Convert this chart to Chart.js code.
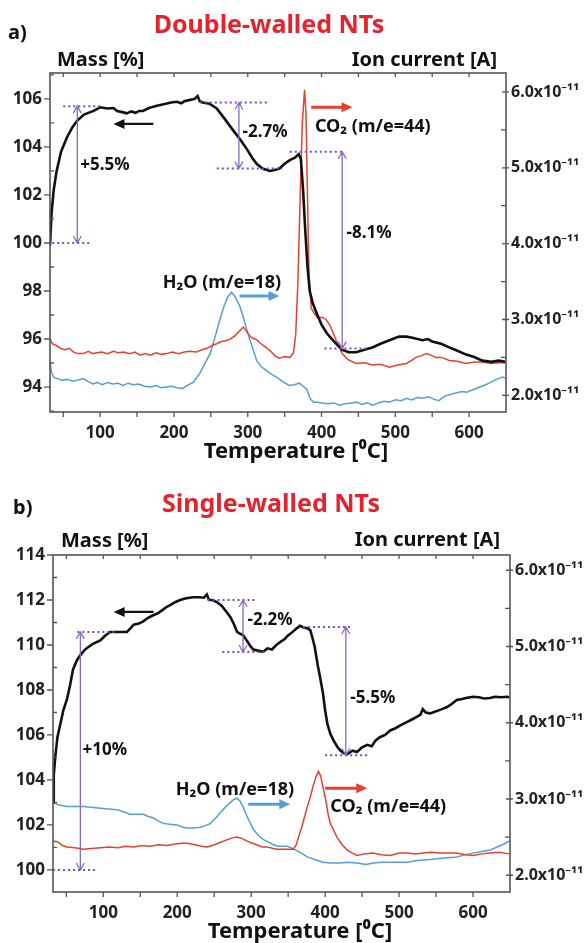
<!DOCTYPE html>
<html>
<head>
<meta charset="utf-8">
<script src="https://cdn.jsdelivr.net/npm/chart.js@4.4.1/dist/chart.umd.min.js"></script>
<style>
  body { margin: 0; background: #fff; }
  #wrap { position: relative; width: 587px; height: 943px; }
  #wrap canvas { position: absolute; left: 0; }
</style>
</head>
<body>
<div id="wrap">
  <canvas id="chartA" width="587" height="470" style="top:0"></canvas>
  <canvas id="chartB" width="587" height="473" style="top:470px"></canvas>
</div>
<script>
// shared ticks
const tempTicks = [100, 200, 300, 400, 500, 600];
const ionTicks = [2, 3, 4, 5, 6];           // x1e-11 A
const aMassTicks = [94, 96, 98, 100, 102, 104, 106];
const bMassTicks = [100, 102, 104, 106, 108, 110, 112, 114];

// a) double-walled NTs - mass [%]
const aMassT = [32, 34, 37, 41, 47, 55, 62, 69, 78, 91, 100, 110, 118, 123, 130, 136, 142, 148, 153, 158, 166, 177, 186, 196, 204, 210, 214, 222, 228, 232, 235, 239, 248, 258, 268, 280, 290, 299, 306, 312, 320, 330, 338, 343, 350, 357, 364, 369, 372, 375, 378, 381, 384, 388, 393, 400, 407, 414, 420, 428, 437, 447, 458, 469, 480, 492, 505, 515, 523, 530, 537, 544, 550, 562, 573, 585, 596, 607, 618, 630, 640, 649];
const aMass = [99.9, 101.2, 102.2, 103.0, 103.8, 104.4, 104.8, 105.1, 105.35, 105.5, 105.65, 105.6, 105.62, 105.5, 105.45, 105.4, 105.48, 105.42, 105.5, 105.5, 105.62, 105.72, 105.78, 105.85, 105.88, 105.82, 105.9, 105.96, 106.0, 106.12, 105.9, 105.85, 105.8, 105.6, 105.2, 104.7, 104.3, 103.9, 103.55, 103.3, 103.1, 103.0, 103.05, 103.1, 103.3, 103.45, 103.55, 103.7, 103.5, 102.2, 100.5, 99.0, 98.0, 97.5, 97.1, 96.6, 96.25, 96.0, 95.8, 95.55, 95.45, 95.45, 95.55, 95.65, 95.8, 95.95, 96.1, 96.1, 96.05, 96.0, 95.95, 96.0, 95.9, 95.8, 95.65, 95.5, 95.35, 95.25, 95.1, 95.05, 95.1, 95.05];

// a) CO2 ion current (m/e=44), x1e-11 A
const aCo2T = [32, 35, 40, 46, 52, 58, 64, 70, 77, 84, 90, 96, 102, 110, 118, 125, 132, 140, 147, 154, 161, 168, 176, 183, 190, 198, 206, 214, 222, 230, 238, 245, 252, 258, 264, 270, 276, 282, 288, 294, 300, 305, 311, 318, 325, 331, 337, 343, 350, 357, 362, 365, 368, 371, 374, 377, 379, 381, 383, 386, 390, 395, 401, 406, 411, 416, 420, 428, 436, 447, 458, 469, 480, 492, 503, 515, 522, 528, 535, 542, 548, 555, 563, 573, 584, 596, 607, 618, 630, 640, 649];
const aCo2 = [2.75, 2.68, 2.66, 2.62, 2.6, 2.62, 2.57, 2.55, 2.55, 2.58, 2.55, 2.56, 2.57, 2.55, 2.58, 2.56, 2.57, 2.55, 2.57, 2.53, 2.55, 2.53, 2.56, 2.54, 2.55, 2.57, 2.55, 2.57, 2.58, 2.57, 2.6, 2.62, 2.66, 2.68, 2.71, 2.72, 2.74, 2.78, 2.84, 2.9, 2.82, 2.76, 2.74, 2.68, 2.63, 2.58, 2.52, 2.49, 2.51, 2.5, 2.56, 2.8, 3.5, 4.6, 5.6, 6.03, 5.7, 4.6, 3.6, 3.15, 3.08, 3.02, 3.03, 3.0, 2.93, 2.82, 2.72, 2.55, 2.47, 2.42, 2.43, 2.4, 2.41, 2.37, 2.4, 2.42, 2.46, 2.5, 2.52, 2.55, 2.53, 2.5, 2.5, 2.46, 2.45, 2.42, 2.44, 2.44, 2.42, 2.43, 2.43];

// a) H2O ion current (m/e=18), x1e-11 A
const aH2oT = [32, 34, 37, 42, 48, 55, 62, 69, 77, 84, 90, 96, 103, 110, 117, 124, 131, 138, 145, 152, 160, 168, 176, 183, 190, 197, 204, 212, 218, 226, 235, 242, 249, 256, 262, 268, 273, 278, 283, 289, 294, 299, 303, 308, 312, 318, 325, 332, 339, 346, 356, 363, 370, 375, 380, 385, 389, 395, 401, 410, 417, 424, 432, 440, 447, 455, 462, 469, 477, 485, 492, 500, 508, 515, 522, 530, 537, 545, 552, 559, 567, 575, 582, 590, 597, 604, 612, 620, 627, 635, 640, 645, 649];
const aH2o = [2.45, 2.3, 2.24, 2.22, 2.2, 2.21, 2.19, 2.2, 2.22, 2.18, 2.15, 2.17, 2.14, 2.17, 2.15, 2.16, 2.13, 2.16, 2.14, 2.15, 2.12, 2.11, 2.13, 2.1, 2.11, 2.12, 2.1, 2.09, 2.13, 2.17, 2.29, 2.42, 2.55, 2.78, 2.99, 3.18, 3.3, 3.36, 3.3, 3.18, 3.03, 2.86, 2.73, 2.58, 2.46, 2.38, 2.33, 2.28, 2.24, 2.19, 2.13, 2.14, 2.16, 2.12, 2.08, 1.95, 1.91, 1.91, 1.9, 1.89, 1.9, 1.87, 1.89, 1.9, 1.91, 1.88, 1.9, 1.87, 1.9, 1.92, 1.91, 1.94, 1.93, 1.96, 1.94, 1.97, 1.96, 1.98, 1.95, 1.93, 1.99, 2.01, 2.03, 2.05, 2.04, 2.07, 2.1, 2.13, 2.16, 2.2, 2.22, 2.24, 2.23];

// b) single-walled NTs - mass [%]
const bMassT = [32, 33, 35, 38, 42, 46, 51, 55, 59, 64, 69, 74, 78, 86, 96, 102, 109, 118, 125, 132, 137, 141, 148, 154, 160, 166, 173, 180, 186, 191, 197, 204, 212, 222, 230, 236, 240, 243, 248, 254, 260, 266, 272, 277, 281, 285, 289, 294, 299, 303, 309, 316, 322, 328, 334, 340, 345, 349, 355, 360, 366, 371, 376, 380, 383, 386, 390, 393, 397, 400, 403, 407, 411, 416, 420, 425, 430, 437, 443, 450, 457, 463, 468, 474, 481, 488, 495, 503, 511, 518, 524, 529, 532, 536, 542, 550, 558, 565, 572, 578, 585, 592, 600, 608, 615, 623, 630, 638, 646, 649];
const bMass = [103.0, 104.2, 105.0, 105.9, 106.5, 107.1, 107.6, 108.2, 108.9, 109.3, 109.55, 109.75, 109.87, 110.05, 110.2, 110.4, 110.58, 110.58, 110.58, 110.58, 110.75, 110.9, 110.95, 111.05, 111.2, 111.3, 111.4, 111.55, 111.7, 111.78, 111.9, 112.0, 112.08, 112.12, 112.12, 112.1, 112.25, 112.0, 112.0, 111.9, 111.75, 111.5, 111.24, 110.9, 110.58, 110.5, 110.44, 110.2, 109.95, 109.8, 109.75, 109.7, 109.85, 109.8, 110.0, 110.15, 110.25, 110.4, 110.55, 110.7, 110.85, 110.78, 110.75, 110.65, 110.3, 109.9, 109.1, 108.6, 107.87, 107.1, 106.5, 106.05, 105.78, 105.5, 105.33, 105.2, 105.15, 105.3, 105.24, 105.45, 105.56, 105.5, 105.75, 105.9, 106.0, 106.2, 106.3, 106.45, 106.58, 106.7, 106.8, 106.9, 107.15, 107.0, 106.96, 107.05, 107.15, 107.24, 107.4, 107.56, 107.6, 107.65, 107.7, 107.68, 107.62, 107.64, 107.7, 107.68, 107.7, 107.68];

// b) CO2 ion current (m/e=44), x1e-11 A
const bCo2T = [32, 38, 45, 51, 62, 73, 84, 96, 108, 120, 130, 141, 152, 163, 175, 186, 197, 206, 214, 224, 233, 241, 250, 258, 266, 274, 281, 288, 294, 299, 307, 315, 322, 330, 335, 343, 350, 357, 361, 364, 368, 372, 376, 380, 384, 388, 391, 394, 397, 401, 404, 407, 411, 416, 423, 430, 437, 443, 452, 465, 476, 488, 500, 511, 522, 532, 544, 555, 566, 578, 590, 600, 612, 623, 635, 649];
const bCo2 = [2.45, 2.44, 2.39, 2.37, 2.36, 2.34, 2.35, 2.36, 2.37, 2.36, 2.38, 2.37, 2.39, 2.38, 2.4, 2.39, 2.41, 2.42, 2.42, 2.4, 2.38, 2.37, 2.4, 2.43, 2.46, 2.49, 2.5, 2.48, 2.45, 2.43, 2.4, 2.37, 2.37, 2.35, 2.34, 2.34, 2.34, 2.34, 2.4, 2.5, 2.62, 2.76, 2.9, 3.03, 3.18, 3.3, 3.36, 3.3, 3.16, 2.98, 2.8, 2.68, 2.6, 2.5, 2.4, 2.33, 2.29, 2.26, 2.28, 2.29, 2.27, 2.26, 2.29, 2.29, 2.28, 2.29, 2.3, 2.29, 2.29, 2.29, 2.27, 2.26, 2.28, 2.29, 2.3, 2.28];

// b) H2O ion current (m/e=18), x1e-11 A
const bH2oT = [32, 40, 51, 62, 73, 84, 96, 107, 119, 128, 136, 145, 154, 161, 168, 175, 181, 190, 200, 207, 214, 222, 231, 238, 245, 252, 258, 264, 270, 276, 281, 285, 289, 294, 299, 303, 310, 316, 322, 328, 335, 342, 349, 356, 362, 366, 371, 376, 385, 397, 408, 420, 430, 443, 455, 465, 477, 488, 500, 511, 522, 532, 545, 555, 566, 578, 590, 600, 612, 623, 635, 642, 649];
const bH2o = [2.96, 2.92, 2.9, 2.9, 2.9, 2.89, 2.88, 2.87, 2.86, 2.83, 2.8, 2.8, 2.8, 2.77, 2.75, 2.71, 2.68, 2.67, 2.66, 2.63, 2.62, 2.62, 2.63, 2.65, 2.68, 2.75, 2.82, 2.88, 2.94, 2.99, 3.01, 2.97, 2.9, 2.78, 2.68, 2.6, 2.52, 2.47, 2.44, 2.41, 2.38, 2.38, 2.38, 2.35, 2.32, 2.3, 2.27, 2.24, 2.21, 2.17, 2.16, 2.16, 2.17, 2.16, 2.14, 2.16, 2.17, 2.17, 2.17, 2.17, 2.19, 2.2, 2.21, 2.22, 2.23, 2.24, 2.27, 2.29, 2.31, 2.33, 2.38, 2.41, 2.45];

// mass-change markers: temperature of the arrow, mass from -> to, label spot
const aSpans = [
  { t: 69, from: 105.7, to: 100, text: '+5.5%', tt: 73, ty: 103.25 },
  { t: 288, from: 105.85, to: 103.1, text: '-2.7%', tt: 293, ty: 104.6 },
  { t: 428, from: 103.8, to: 95.6, text: '-8.1%', tt: 434, ty: 100.4 }
];
const aGuides = [[50, 100, 105.7], [35, 89, 100], [235, 326, 105.85], [258, 347, 103.1], [357, 431, 103.8], [404, 465, 95.6]];
const bSpans = [
  { t: 69, from: 110.58, to: 100, text: '+10%', tt: 72, ty: 105.33 },
  { t: 289, from: 112.0, to: 109.69, text: '-2.2%', tt: 295, ty: 111.1 },
  { t: 428, from: 110.8, to: 105.1, text: '-5.5%', tt: 434, ty: 107.64 }
];
const bGuides = [[65, 119, 110.58], [32, 89, 100], [241, 305, 112.0], [261, 322, 109.69], [370, 436, 110.8], [400, 458, 105.1]];

const BLACK = '#111111';
const RED = '#e8402f';
const BLUE = '#559fd2';
const PURPLE = '#8a68c0';
const FONT = '"Noto Sans", "DejaVu Sans", sans-serif';

function pts(xs, ys) {
  return xs.map((x, i) => ({ x: x, y: ys[i] }));
}

// arrow with a filled head
function arrow(ctx, x1, x2, y, color, w) {
  const dir = x2 > x1 ? 1 : -1;
  ctx.save();
  ctx.strokeStyle = color;
  ctx.fillStyle = color;
  ctx.lineWidth = w;
  ctx.beginPath();
  ctx.moveTo(x1, y);
  ctx.lineTo(x2 - dir * 8, y);
  ctx.stroke();
  ctx.beginPath();
  ctx.moveTo(x2, y);
  ctx.lineTo(x2 - dir * 11, y - 5);
  ctx.lineTo(x2 - dir * 11, y + 5);
  ctx.closePath();
  ctx.fill();
  ctx.restore();
}

function text(ctx, str, x, y, size, color, align) {
  ctx.save();
  ctx.font = 'bold ' + size + 'px ' + FONT;
  ctx.fillStyle = color;
  ctx.textAlign = align || 'left';
  ctx.textBaseline = 'middle';
  ctx.fillText(str, x, y);
  ctx.restore();
}

function makeDecor(cfg) {
  return {
    id: 'decor',
    afterDatasetsDraw(chart) {
      const { ctx, chartArea: a, scales } = chart;
      const X = scales.x, Y = scales.y, Y1 = scales.y1;

      // frame
      ctx.save();
      ctx.strokeStyle = '#555';
      ctx.lineWidth = 1.6;
      ctx.strokeRect(a.left, a.top, a.right - a.left, a.bottom - a.top);
      ctx.lineWidth = 1.3;
      ctx.beginPath();
      for (let t = 50; t <= 600; t += 50) {
        const x = X.getPixelForValue(t);
        ctx.moveTo(x, a.bottom); ctx.lineTo(x, a.bottom + 5);
        ctx.moveTo(x, a.top); ctx.lineTo(x, a.top + 4);
      }
      for (let v = Math.ceil(Y.min); v <= Y.max; v++) {
        const y = Y.getPixelForValue(v);
        if (v % 2 === 0) { ctx.moveTo(a.left - 6, y); ctx.lineTo(a.left, y); }
        else { ctx.moveTo(a.left, y); ctx.lineTo(a.left + 4, y); }
      }
      for (let v = 2; v <= 6; v += 0.5) {
        const y = Y1.getPixelForValue(v);
        if (v % 1 === 0) { ctx.moveTo(a.right - 4, y); ctx.lineTo(a.right + 3, y); }
        else { ctx.moveTo(a.right - 5, y); ctx.lineTo(a.right, y); }
      }
      ctx.stroke();
      ctx.restore();

      // dotted guide lines
      ctx.save();
      ctx.strokeStyle = '#7a4cc0';
      ctx.lineWidth = 2;
      ctx.setLineDash([2, 3]);
      ctx.beginPath();
      cfg.guides.forEach(g => {
        const y = Y.getPixelForValue(g[2]);
        ctx.moveTo(X.getPixelForValue(g[0]), y);
        ctx.lineTo(X.getPixelForValue(g[1]), y);
      });
      ctx.stroke();
      ctx.restore();

      // double-headed mass-change arrows
      cfg.spans.forEach(s => {
        const x = X.getPixelForValue(s.t);
        const y1 = Y.getPixelForValue(s.from), y2 = Y.getPixelForValue(s.to);
        const d = y2 > y1 ? 1 : -1;
        ctx.save();
        ctx.strokeStyle = PURPLE;
        ctx.lineWidth = 1.3;
        ctx.beginPath();
        ctx.moveTo(x, y1); ctx.lineTo(x, y2);
        ctx.moveTo(x - 4, y1 + d * 7); ctx.lineTo(x, y1); ctx.lineTo(x + 4, y1 + d * 7);
        ctx.moveTo(x - 4, y2 - d * 7); ctx.lineTo(x, y2); ctx.lineTo(x + 4, y2 - d * 7);
        ctx.stroke();
        ctx.restore();
        text(ctx, s.text, X.getPixelForValue(s.tt), Y.getPixelForValue(s.ty), 17, BLACK, 'left');
      });

      // direction arrows and gas labels
      cfg.arrows.forEach(r => {
        const sc = scales[r.axis];
        arrow(ctx, X.getPixelForValue(r.t1), X.getPixelForValue(r.t2), sc.getPixelForValue(r.v), r.color, r.w);
      });
      cfg.labels.forEach(l => {
        text(ctx, l.text, X.getPixelForValue(l.t), scales[l.axis].getPixelForValue(l.v), 18, BLACK, l.align);
      });

      // titles
      cfg.titles.forEach(l => text(ctx, l.text, l.x, l.y, l.size, l.color, l.align));
    }
  };
}

function makePanel(id, p) {
  const tickFont = { family: FONT, size: 16, weight: 'bold' };
  return new Chart(document.getElementById(id), {
    type: 'line',
    data: {
      datasets: [
        { data: pts(p.massT, p.mass), yAxisID: 'y', borderColor: BLACK, borderWidth: 2.6 },
        { data: pts(p.co2T, p.co2), yAxisID: 'y1', borderColor: RED, borderWidth: 1.5 },
        { data: pts(p.h2oT, p.h2o), yAxisID: 'y1', borderColor: BLUE, borderWidth: 1.5 }
      ]
    },
    options: {
      responsive: false,
      animation: false,
      elements: { point: { radius: 0 }, line: { tension: 0 } },
      layout: { padding: { top: p.top, left: 0, right: 0, bottom: 0 } },
      plugins: { legend: { display: false }, tooltip: { enabled: false } },
      scales: {
        x: {
          type: 'linear', min: 32, max: 650,
          grid: { display: false, drawTicks: false }, border: { display: false },
          afterBuildTicks: s => { s.ticks = tempTicks.map(v => ({ value: v })); },
          afterFit: s => { s.height = p.xh; },
          ticks: { font: { family: FONT, size: 17, weight: 'bold' }, color: '#222', padding: 11, maxRotation: 0 }
        },
        y: {
          position: 'left', min: p.yMin, max: p.yMax,
          grid: { display: false, drawTicks: false }, border: { display: false },
          afterBuildTicks: s => { s.ticks = p.massTicks.map(v => ({ value: v })); },
          afterFit: s => { s.width = p.left; },
          ticks: { font: { family: FONT, size: 17, weight: 'bold' }, color: '#222', padding: 8 }
        },
        y1: {
          position: 'right', min: 1.78, max: p.y1Max,
          grid: { display: false, drawTicks: false }, border: { display: false },
          afterBuildTicks: s => { s.ticks = ionTicks.map(v => ({ value: v })); },
          afterFit: s => { s.width = p.right; },
          ticks: { font: tickFont, color: '#222', padding: 5, callback: v => v.toFixed(1) + 'x10⁻¹¹' }
        }
      }
    },
    plugins: [makeDecor(p.decor)]
  });
}

makePanel('chartA', {
  massT: aMassT, mass: aMass, co2T: aCo2T, co2: aCo2, h2oT: aH2oT, h2o: aH2o,
  yMin: 92.96, yMax: 107.08, y1Max: 6.25, massTicks: aMassTicks,
  top: 73, left: 50, right: 81, xh: 58,
  decor: {
    guides: aGuides, spans: aSpans,
    arrows: [
      { t1: 172, t2: 118, v: 104.96, axis: 'y', color: BLACK, w: 2.2 },
      { t1: 386, t2: 442, v: 5.8, axis: 'y1', color: RED, w: 3 },
      { t1: 289, t2: 343, v: 3.31, axis: 'y1', color: BLUE, w: 3 }
    ],
    labels: [
      { text: 'CO₂ (m/e=44)', t: 391, v: 5.54, axis: 'y1', align: 'left' },
      { text: 'H₂O (m/e=18)', t: 265, v: 3.48, axis: 'y1', align: 'center' }
    ],
    titles: [
      { text: 'a)', x: 8, y: 33, size: 20, color: BLACK, align: 'left' },
      { text: 'Double-walled NTs', x: 269, y: 26, size: 25, color: '#e3232e', align: 'center' },
      { text: 'Mass [%]', x: 57, y: 60, size: 20, color: BLACK, align: 'left' },
      { text: 'Ion current [A]', x: 497, y: 60, size: 20, color: BLACK, align: 'right' },
      { text: 'Temperature [⁰C]', x: 296, y: 452, size: 22, color: BLACK, align: 'center' }
    ]
  }
});

makePanel('chartB', {
  massT: bMassT, mass: bMass, co2T: bCo2T, co2: bCo2, h2oT: bH2oT, h2o: bH2o,
  yMin: 99.02, yMax: 114, y1Max: 6.2, massTicks: bMassTicks,
  top: 85, left: 53, right: 77, xh: 51,
  decor: {
    guides: bGuides, spans: bSpans,
    arrows: [
      { t1: 168, t2: 114, v: 111.47, axis: 'y', color: BLACK, w: 2.2 },
      { t1: 400, t2: 457, v: 3.14, axis: 'y1', color: RED, w: 3 },
      { t1: 296, t2: 353, v: 2.93, axis: 'y1', color: BLUE, w: 3 }
    ],
    labels: [
      { text: 'H₂O (m/e=18)', t: 278, v: 3.12, axis: 'y1', align: 'center' },
      { text: 'CO₂ (m/e=44)', t: 407, v: 2.9, axis: 'y1', align: 'left' }
    ],
    titles: [
      { text: 'b)', x: 13, y: 38, size: 20, color: BLACK, align: 'left' },
      { text: 'Single-walled NTs', x: 271, y: 35, size: 25, color: '#e3232e', align: 'center' },
      { text: 'Mass [%]', x: 61, y: 71, size: 20, color: BLACK, align: 'left' },
      { text: 'Ion current [A]', x: 500, y: 70, size: 20, color: BLACK, align: 'right' },
      { text: 'Temperature [⁰C]', x: 300, y: 462, size: 22, color: BLACK, align: 'center' }
    ]
  }
});
</script>
</body>
</html>
